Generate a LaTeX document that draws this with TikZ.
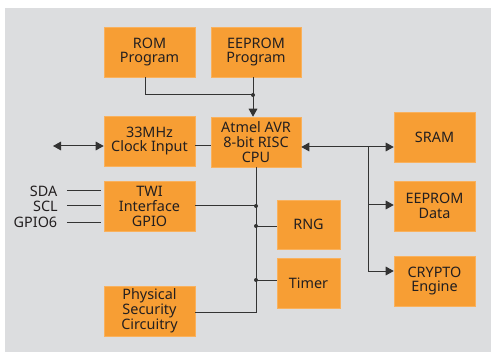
\documentclass[tikz,border=0pt]{standalone}
\usepackage{fontspec}
\setmainfont{Noto Sans}
\usetikzlibrary{arrows.meta}
\definecolor{boxor}{HTML}{F79E34}
\definecolor{bggray}{HTML}{DCDDDF}
\definecolor{linec}{HTML}{333333}
\definecolor{txtc}{HTML}{231F20}
\tikzset{
  blk/.style={fill=boxor, draw=boxor!80!white, line width=0.4pt, inner sep=0pt, align=center,
    text=txtc, font=\fontsize{10.8pt}{11.2pt}\selectfont},
  wire/.style={draw=linec, line width=0.75pt},
  tip/.style={-{Triangle[length=6pt,width=6.5pt]}},
  tips/.style={{Triangle[length=6pt,width=6.5pt]}-{Triangle[length=6pt,width=6.5pt]}},
  dotc/.style={circle, fill=linec, inner sep=0pt, minimum size=3pt},
  sig/.style={anchor=east, inner sep=0pt, text=txtc, font=\fontsize{10.8pt}{11.2pt}\selectfont}
}
\begin{document}
\begin{tikzpicture}[x=0.75pt,y=-0.75pt]
\useasboundingbox (0,0) rectangle (491,352);
\fill[bggray] (5,8) rectangle (491,352);
% boxes
\node[blk, minimum width=68.25pt, minimum height=37.5pt] (rom) at (149.5,52) {ROM\\Program};
\node[blk, minimum width=67.5pt, minimum height=37.5pt] (eep) at (256,52) {EEPROM\\Program};
\node[blk, minimum width=68.25pt, minimum height=37.5pt] (clk) at (149.5,141) {33MHz\\Clock Input};
\node[blk, minimum width=67.5pt, minimum height=37.5pt] (cpu) at (256,142) {Atmel AVR\\8-bit RISC\\CPU};
\node[blk, minimum width=60.75pt, minimum height=37.5pt] (sram) at (434.5,137) {SRAM};
\node[blk, minimum width=68.25pt, minimum height=37.5pt] (twi) at (149.5,206) {TWI\\Interface\\GPIO};
\node[blk, minimum width=68.25pt, minimum height=37.5pt] (phys) at (149.5,311) {Physical\\Security\\Circuitry};
\node[blk, minimum width=47.25pt, minimum height=36.75pt] (rng) at (308.5,224.5) {RNG};
\node[blk, minimum width=47.25pt, minimum height=37.5pt] (timer) at (308.5,283) {Timer};
\node[blk, minimum width=60.75pt, minimum height=37.5pt] (eepd) at (434.5,206) {EEPROM\\Data};
\node[blk, minimum width=60.75pt, minimum height=37.5pt] (cry) at (434.5,281) {CRYPTO\\Engine};
% signal labels
\node[sig] (sda) at (57.5,191) {SDA};
\node[sig] (scl) at (58,206) {SCL};
\node[sig] (gpio) at (57.5,222) {GPIO6};
\draw[wire] ([xshift=7pt]sda.east) -- ([xshift=-2.25pt]twi.west |- sda.east);
\draw[wire] ([xshift=6.6pt]scl.east) -- ([xshift=-2.25pt]twi.west |- scl.east);
\draw[wire] ([xshift=7pt]gpio.east) -- ([xshift=-2.25pt]twi.west |- gpio.east);
% coordinates
\coordinate (r1) at (145,95);
\coordinate (j1) at (253,95);
\coordinate (ck) at (53,146);
\coordinate (b1) at (368,147);
\coordinate (b2) at (368,205);
\coordinate (b3) at (368,271);
\coordinate (v1) at (256,312);
\coordinate (t1) at (256,206);
\coordinate (t2) at (256,226);
\coordinate (t3) at (256,280);
% program memories to CPU
\draw[wire] (rom.south -| r1) |- (j1);
\draw[wire] (eep.south -| j1) -- (j1);
\draw[wire, tip] (j1) -- (cpu.north -| j1);
\node[dotc] (d0) at (j1) {};
% clock
\draw[wire, tips] (ck) -- (clk.west |- ck);
\draw[wire] (clk.east |- ck) -- (cpu.west |- ck);
% CPU to memories
\draw[wire, tips] (cpu.east |- b1) -- (sram.west |- b1);
\draw[wire] (b1) -- (b3);
\draw[wire, tip] (b2) -- (eepd.west |- b2);
\draw[wire, tip] (b3) -- (cry.west |- b3);
% CPU lower bus
\draw[wire] (cpu.south) -- (v1) -- (phys.east |- v1);
\draw[wire] (twi.east |- t1) -- (t1);
\draw[wire] (t2) -- (rng.west |- t2);
\draw[wire] (t3) -- (timer.west |- t3);
\node[dotc] (d1) at (t1) {};
\node[dotc] (d2) at (t2) {};
\node[dotc] (d3) at (t3) {};
\end{tikzpicture}
\end{document}
